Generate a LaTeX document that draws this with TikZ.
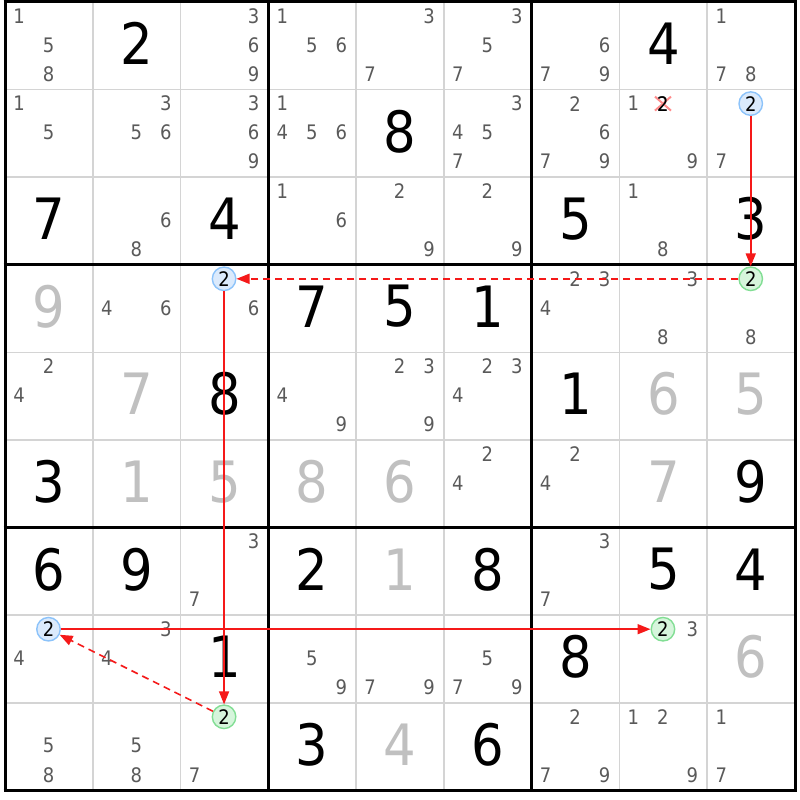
\documentclass[tikz,border=0pt]{standalone}
\usepackage{fontspec}
\setmainfont{DejaVu Sans}
\newfontfamily\digfont{DejaVu Sans}[FakeStretch=0.9]
\usetikzlibrary{arrows.meta,calc}
\definecolor{candgray}{RGB}{90,90,90}
\definecolor{solvedgray}{RGB}{192,192,192}
\definecolor{thingrid}{RGB}{212,212,212}
\definecolor{bluefill}{RGB}{219,234,252}
\definecolor{bluedraw}{RGB}{140,195,250}
\definecolor{greenfill}{RGB}{214,245,220}
\definecolor{greendraw}{RGB}{130,222,148}
\definecolor{linkred}{RGB}{245,25,25}
\newcommand\CW{87.78}
\newcommand\CH{87.6}
\newcommand\cnd[4][cand]{%
  \pgfmathsetmacro\cx{5+(#3-1)*\CW+14+29.5*mod(#4-1,3)}%
  \pgfmathsetmacro\cy{2+(#2-1)*\CH+14+29*floor((#4-1)/3)}%
  \node[#1] (n#2#3#4) at (\cx,\cy) {#4};}
\newcommand\gv[4][given]{%
  \pgfmathsetmacro\cx{5+(#3-0.5)*\CW}%
  \pgfmathsetmacro\cy{2+(#2-0.5)*\CH-2}%
  \node[#1] (g#2#3) at (\cx,\cy) {#4};}
\tikzset{
  candfont/.style={font=\fontsize{20}{20}\selectfont\digfont},
  cand/.style={inner sep=0pt,text=candgray,candfont},
  circblue/.style={circle,inner sep=0pt,minimum size=23.5pt,draw=bluedraw,line width=1.4pt,fill=bluefill,text=black,candfont},
  circgreen/.style={circle,inner sep=0pt,minimum size=23.5pt,draw=greendraw,line width=1.4pt,fill=greenfill,text=black,candfont},
  given/.style={inner sep=0pt,text=black,font=\fontsize{57}{57}\selectfont\digfont},
  solved/.style={given,text=solvedgray},
  thinline/.style={draw=thingrid,line width=1.6pt},
  thickline/.style={draw=black,line width=3pt},
  link/.style={draw=linkred,line width=1.6pt,-{Triangle[length=13pt,width=10pt]}},
  weaklink/.style={link,dash pattern=on 7pt off 5pt},
  xmark/.style={draw=red!45,line width=2pt}
}
\begin{document}
\begin{tikzpicture}[x=1pt,y=-1pt]
\useasboundingbox (0,0) rectangle (800,800);
\fill[white] (0,0) rectangle (800,800);
% grid
\foreach \i in {1,2,4,5,7,8}{
  \draw[thinline] ({5+\i*\CW},2) -- ({5+\i*\CW},{2+9*\CH});
  \draw[thinline] (5,{2+\i*\CH}) -- ({5+9*\CW},{2+\i*\CH});
}
\foreach \i in {0,3,6,9}{
  \draw[thickline] ({5+\i*\CW},{2-1.5}) -- ({5+\i*\CW},{2+9*\CH+1.5});
  \draw[thickline] ({5-1.5},{2+\i*\CH}) -- ({5+9*\CW+1.5},{2+\i*\CH});
}
% givens
\foreach \r/\c/\v in {1/2/2,1/8/4,2/5/8,3/1/7,3/3/4,3/7/5,3/9/3,4/4/7,4/5/5,4/6/1,5/3/8,5/7/1,6/1/3,6/9/9,7/1/6,7/2/9,7/4/2,7/6/8,7/8/5,7/9/4,8/3/1,8/7/8,9/4/3,9/6/6}
  {\gv{\r}{\c}{\v}}
% solved
\foreach \r/\c/\v in {4/1/9,5/2/7,5/8/6,5/9/5,6/2/1,6/3/5,6/4/8,6/5/6,6/8/7,7/5/1,8/9/6,9/5/4}
  {\gv[solved]{\r}{\c}{\v}}
% candidates
\foreach \r/\c/\ds in {1/1/{1,5,8},1/3/{3,6,9},1/4/{1,5,6},1/5/{3,7},1/6/{3,5,7},1/7/{6,7,9},1/9/{1,7,8},
  2/1/{1,5},2/2/{3,5,6},2/3/{3,6,9},2/4/{1,4,5,6},2/6/{3,4,5,7},2/7/{2,6,7,9},2/8/{1,2,9},2/9/{7},
  3/2/{6,8},3/4/{1,6},3/5/{2,9},3/6/{2,9},3/8/{1,8},
  4/2/{4,6},4/3/{6},4/7/{2,3,4},4/8/{3,8},4/9/{8},
  5/1/{2,4},5/4/{4,9},5/5/{2,3,9},5/6/{2,3,4},
  6/6/{2,4},6/7/{2,4},
  7/3/{3,7},7/7/{3,7},
  8/1/{4},8/2/{3,4},8/4/{5,9},8/5/{7,9},8/6/{5,7,9},8/8/{3},
  9/1/{5,8},9/2/{5,8},9/3/{7},9/7/{2,7,9},9/8/{1,2,9},9/9/{1,7}}
  {\foreach \d in \ds {\cnd{\r}{\c}{\d}}}
% eliminated candidate
\draw[xmark] ($(n282)+(-8,-7)$) -- ($(n282)+(8,7)$);
\draw[xmark] ($(n282)+(-8,7)$) -- ($(n282)+(8,-7)$);
\node[cand,text=black] at (n282) {2};
% chain candidates
\cnd[circblue]{2}{9}{2}
\cnd[circgreen]{4}{9}{2}
\cnd[circblue]{4}{3}{2}
\cnd[circgreen]{9}{3}{2}
\cnd[circblue]{8}{1}{2}
\cnd[circgreen]{8}{8}{2}
% links
\draw[link] (n292) -- (n492);
\draw[weaklink] (n492) -- (n432);
\draw[link] (n432) -- (n932);
\draw[weaklink] (n932) -- (n812);
\draw[link] (n812) -- (n882);
\end{tikzpicture}
\end{document}
